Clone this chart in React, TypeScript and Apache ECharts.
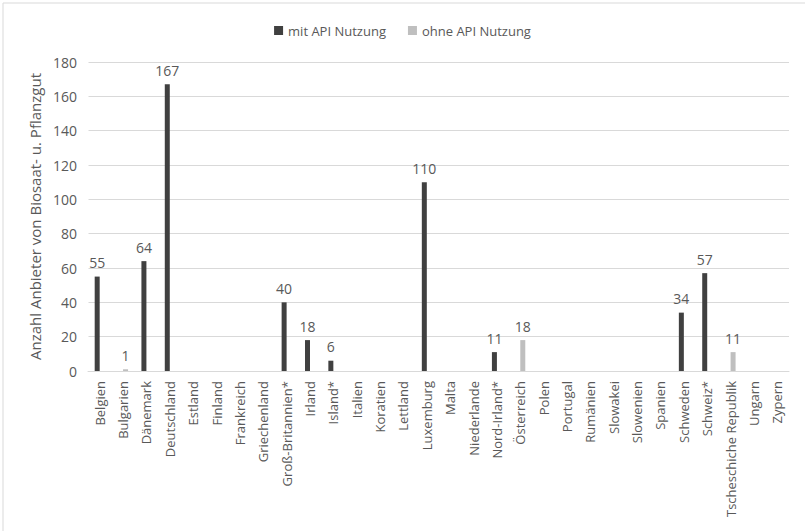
import React, { useEffect, useRef } from "react";
import * as echarts from "echarts";

const categories = [
  "Belgien", "Bulgarien", "Dänemark", "Deutschland", "Estland", "Finland", "Frankreich",
  "Griechenland", "Groß-Britannien*", "Irland", "Island*", "Italien", "Koratien", "Lettland",
  "Luxemburg", "Malta", "Niederlande", "Nord-Irland*", "Österreich", "Polen", "Portugal",
  "Rumänien", "Slowakei", "Slowenien", "Spanien", "Schweden", "Schweiz*",
  "Tscheschiche Republik", "Ungarn", "Zypern",
];

const mitApi: (number | null)[] = [
  55, null, 64, 167, null, null, null, null, 40, 18, 6, null, null, null,
  110, null, null, 11, null, null, null, null, null, null, null, 34, 57, null, null, null,
];

const ohneApi: (number | null)[] = [
  null, 1, null, null, null, null, null, null, null, null, null, null, null, null,
  null, null, null, null, 18, null, null, null, null, null, null, null, null, 11, null, null,
];

const yTicks = { min: 0, max: 180, interval: 20 };

const FONT = "'Open Sans', sans-serif";
const TXT = "#595959";

export default function App() {
  const ref = useRef<HTMLDivElement>(null);
  useEffect(() => {
    document.body.style.margin = "0";
    if (!ref.current) return;
    const chart = echarts.init(ref.current, undefined, { renderer: "svg" });
    chart.setOption({
      animation: false,
      backgroundColor: "#ffffff",
      textStyle: { fontFamily: FONT },
      graphic: [
        {
          type: "rect",
          shape: { x: 3, y: 3, width: 830, height: 560 },
          style: { fill: "none", stroke: "#d9d9d9", lineWidth: 1 },
          silent: true,
        },
        {
          type: "rect",
          z: 100,
          shape: { x: 85, y: 48, width: 3.5, height: 322 },
          style: { fill: "#ffffff" },
          silent: true,
        },
      ],
      legend: {
        top: 19,
        left: "center",
        itemWidth: 9,
        itemHeight: 9,
        itemGap: 22,
        icon: "rect",
        textStyle: { color: TXT, fontSize: 13, fontFamily: FONT },
        data: ["mit API Nutzung", "ohne API Nutzung"],
      },
      grid: { left: 88, right: 16, top: 62, bottom: 160, containLabel: false, show: false },
      xAxis: {
        type: "category",
        data: categories,
        axisLine: { show: true, lineStyle: { color: "#d9d9d9", width: 1 } },
        axisTick: { show: false },
        splitLine: { show: false },
        axisLabel: {
          rotate: 90,
          interval: 0,
          margin: 10,
          color: TXT,
          fontSize: 13,
          fontFamily: FONT,
        },
      },
      yAxis: {
        type: "value",
        min: yTicks.min,
        max: yTicks.max,
        interval: yTicks.interval,
        name: "Anzahl Anbieter von Biosaat- u. Pflanzgut",
        nameLocation: "middle",
        nameGap: 40,
        nameTextStyle: { color: TXT, fontSize: 15, fontFamily: FONT },
        axisLine: { show: false },
        axisTick: { show: false },
        axisLabel: { color: TXT, fontSize: 14, margin: 11, fontFamily: FONT },
        splitLine: { show: true, lineStyle: { color: "#d9d9d9", width: 1 } },
      },
      series: [
        {
          name: "mit API Nutzung",
          type: "bar",
          data: mitApi,
          barWidth: 5,
          barGap: "0%",
          itemStyle: { color: "#404040" },
          label: {
            show: true,
            position: "top",
            distance: 7,
            color: TXT,
            fontSize: 14,
            fontFamily: FONT,
          },
        },
        {
          name: "ohne API Nutzung",
          type: "bar",
          data: ohneApi,
          barWidth: 5,
          barGap: "0%",
          itemStyle: { color: "#bfbfbf" },
          label: {
            show: true,
            position: "top",
            distance: 7,
            color: TXT,
            fontSize: 14,
            fontFamily: FONT,
          },
        },
      ],
    });
    return () => chart.dispose();
  }, []);
  return (
    <div style={{ position: "absolute", left: 0, top: 0, width: 805, height: 531, overflow: "hidden" }}>
      <div ref={ref} style={{ width: 805, height: 531 }} />
    </div>
  );
}
